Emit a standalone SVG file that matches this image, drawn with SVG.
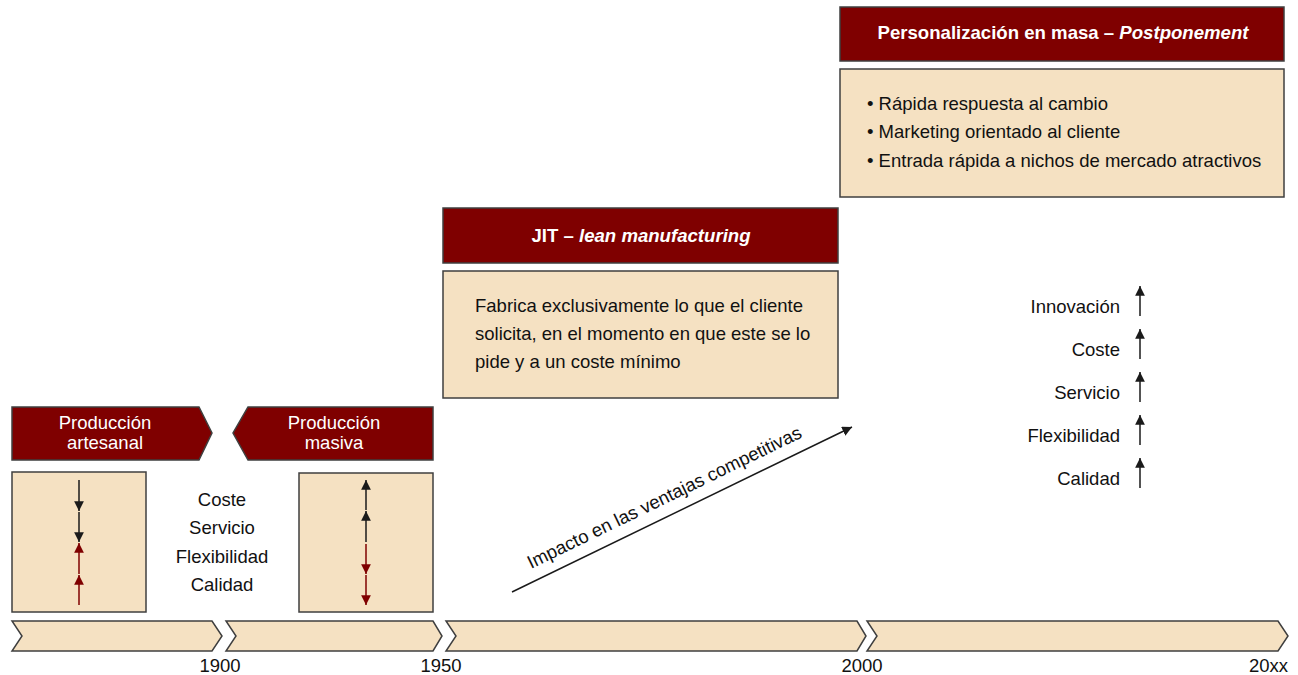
<svg xmlns="http://www.w3.org/2000/svg" width="1298" height="675" viewBox="0 0 1298 675">
<style>
text{font-family:"Liberation Sans",Arial,sans-serif;font-size:18.5px;fill:#111}
.band{fill:#7F0000;stroke:#3f3f3f;stroke-width:1.5}
.box{fill:#F5E1C2;stroke:#3f3f3f;stroke-width:1.5}
.wt{fill:#fff}
.b{font-weight:bold;font-size:18.6px}
.mid{text-anchor:middle}
.end{text-anchor:end}
.ak{stroke:#1a1a1a;stroke-width:1.5;fill:none}
.ar{stroke:#7F0000;stroke-width:1.5;fill:none}
</style>
<defs>
<marker id="hk" viewBox="0 0 10 10" refX="10" refY="5" markerWidth="6.5" markerHeight="6.5" markerUnits="strokeWidth" orient="auto"><path d="M0,0 L10,5 L0,10 z" fill="#1a1a1a"/></marker>
<marker id="hr" viewBox="0 0 10 10" refX="10" refY="5" markerWidth="6.5" markerHeight="6.5" markerUnits="strokeWidth" orient="auto"><path d="M0,0 L10,5 L0,10 z" fill="#7F0000"/></marker>
</defs>

<g id="timeline">
<polygon class="box" points="12,621 212,621 222,636 212,651 12,651 22,636"/>
<polygon class="box" points="226,621 433,621 442,636 433,651 226,651 236,636"/>
<polygon class="box" points="446,621 857,621 866,636 857,651 446,651 456,636"/>
<polygon class="box" points="867,621 1278,621 1288,636 1278,651 867,651 877,636"/>
<text class="mid" x="220" y="672">1900</text>
<text class="mid" x="441" y="672">1950</text>
<text class="mid" x="862" y="672">2000</text>
<text class="end" x="1288" y="672">20xx</text>
</g>

<g id="artesanal">
<polygon class="band" points="12,407 199,407 212,433 199,460 12,460"/>
<text class="wt mid" x="105" y="429">Producción</text>
<text class="wt mid" x="105" y="449">artesanal</text>
<rect class="box" x="12" y="472" width="134" height="140"/>
</g>

<g id="masiva">
<polygon class="band" points="248,407 433,407 433,460 248,460 233,433"/>
<text class="wt mid" x="334" y="429">Producción</text>
<text class="wt mid" x="334" y="449">masiva</text>
<rect class="box" x="299" y="473" width="134" height="139"/>
</g>

<g id="criterios">
<text class="mid" x="222" y="506">Coste</text>
<text class="mid" x="222" y="534">Servicio</text>
<text class="mid" x="222" y="563">Flexibilidad</text>
<text class="mid" x="222" y="591">Calidad</text>
</g>

<g id="jit">
<rect class="band" x="443" y="208" width="395" height="55"/>
<text class="wt b mid" x="641" y="242">JIT – <tspan font-style="italic">lean manufacturing</tspan></text>
<rect class="box" x="443" y="271" width="395" height="127"/>
<text x="475" y="312">Fabrica exclusivamente lo que el cliente</text>
<text x="475" y="340">solicita, en el momento en que este se lo</text>
<text x="475" y="368">pide y a un coste mínimo</text>
</g>

<g id="personalizacion">
<rect class="band" x="840" y="7" width="444" height="54"/>
<text class="wt b mid" x="1063" y="39">Personalización en masa – <tspan font-style="italic">Postponement</tspan></text>
<rect class="box" x="840" y="69" width="444" height="128"/>
<text x="867" y="110">• Rápida respuesta al cambio</text>
<text x="867" y="138">• Marketing orientado al cliente</text>
<text x="867" y="167">• Entrada rápida a nichos de mercado atractivos</text>
</g>

<g id="futuro">
<text class="end" x="1120" y="313">Innovación</text>
<text class="end" x="1120" y="356">Coste</text>
<text class="end" x="1120" y="399">Servicio</text>
<text class="end" x="1120" y="442">Flexibilidad</text>
<text class="end" x="1120" y="485">Calidad</text>
</g>

<g id="connectors">
<line class="ak" x1="79" y1="480" x2="79" y2="511" marker-end="url(#hk)"/>
<line class="ak" x1="79" y1="512" x2="79" y2="542" marker-end="url(#hk)"/>
<line class="ar" x1="79" y1="574" x2="79" y2="543" marker-end="url(#hr)"/>
<line class="ar" x1="79" y1="605" x2="79" y2="575" marker-end="url(#hr)"/>
<line class="ak" x1="366" y1="510" x2="366" y2="480" marker-end="url(#hk)"/>
<line class="ak" x1="366" y1="542" x2="366" y2="511" marker-end="url(#hk)"/>
<line class="ar" x1="366" y1="544" x2="366" y2="574" marker-end="url(#hr)"/>
<line class="ar" x1="366" y1="575" x2="366" y2="605" marker-end="url(#hr)"/>
<line class="ak" x1="1140" y1="316" x2="1140" y2="286" marker-end="url(#hk)"/>
<line class="ak" x1="1140" y1="359" x2="1140" y2="329" marker-end="url(#hk)"/>
<line class="ak" x1="1140" y1="402" x2="1140" y2="372" marker-end="url(#hk)"/>
<line class="ak" x1="1140" y1="445" x2="1140" y2="415" marker-end="url(#hk)"/>
<line class="ak" x1="1140" y1="488" x2="1140" y2="458" marker-end="url(#hk)"/>
<line class="ak" x1="512" y1="592" x2="852" y2="427" marker-end="url(#hk)"/>
<text class="mid" transform="translate(667,503) rotate(-25.9)">Impacto en las ventajas competitivas</text>
</g>
</svg>
